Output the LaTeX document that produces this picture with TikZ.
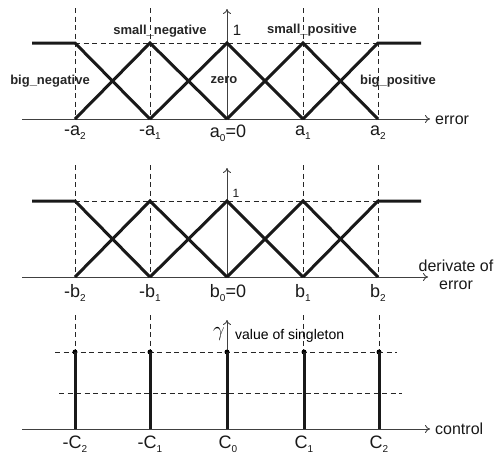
\documentclass[tikz,border=0pt]{standalone}
\usepackage{fontspec}
\setmainfont{Liberation Sans}
\usetikzlibrary{arrows.meta}
\newcommand{\sbs}[1]{\raisebox{-0.45ex}{\fontsize{10}{10}\selectfont #1}}
\begin{document}
\begin{tikzpicture}[x=1pt,y=-1pt,
  mf/.style={line width=3pt, line join=miter, black!90},
  guide/.style={dash pattern=on 5pt off 3.5pt, line width=0.9pt, black!85},
  axis/.style={line width=0.9pt, black!75, -{To[length=5pt,width=8pt]}},
  tick/.style={font=\fontsize{18}{18}\selectfont, text=black!90, inner sep=0pt},
  lab/.style={font=\fontsize{16}{18}\selectfont, text=black!90, inner sep=0pt},
  setname/.style={font=\bfseries\fontsize{13}{13}\selectfont, text=black!85, inner sep=0pt},
  one/.style={font=\fontsize{15}{15}\selectfont, text=black!90, inner sep=0pt},
  dot/.style={circle, fill=black, inner sep=0pt, minimum size=5pt}]
\useasboundingbox (0,0) rectangle (496,455);

% ---------- panel 1: error ----------
\coordinate (e0) at (22,119);
\coordinate (e1) at (430,119);
\draw[axis] (e0) -- (e1);
\node[lab, anchor=west] (err) at (435,120) {error};
\foreach \x in {75,150,303,378}{
  \draw[guide] (\x,8) -- (\x,119);
}
\draw[guide] (75,43) -- (378,43);
\draw[axis] (227,119) -- (227,9);
\node[one] (one1) at (237,30) {1};
\draw[mf] (32,43) -- (75,43) -- (150,119);
\draw[mf] (75,119) -- (150,43) -- (227,119);
\draw[mf] (150,119) -- (227,43) -- (303,119);
\draw[mf] (227,119) -- (303,43) -- (378,119);
\draw[mf] (303,119) -- (378,43) -- (421,43);
\node[setname] (sn) at (160,31) {small\_negative};
\node[setname] (sp) at (312,30) {small\_positive};
\node[setname] (bn) at (50,81) {big\_negative};
\node[setname] (zr) at (224,80) {zero};
\node[setname] (bp) at (398,81) {big\_positive};
\node[tick] (ta1) at (75,133) {-a\sbs{2}};
\node[tick] (ta2) at (150,133) {-a\sbs{1}};
\node[tick] (ta3) at (228,133) {a\sbs{0}=0};
\node[tick] (ta4) at (303,133) {a\sbs{1}};
\node[tick] (ta5) at (378,133) {a\sbs{2}};

% ---------- panel 2: derivate of error ----------
\coordinate (d0) at (22,277);
\coordinate (d1) at (428,277);
\draw[axis] (d0) -- (d1);
\node[lab, align=center] (der) at (456,275) {derivate of\\error};
\foreach \x in {75,150,303,378}{
  \draw[guide] (\x,165) -- (\x,277);
}
\draw[guide] (75,201) -- (378,201);
\draw[axis] (227,277) -- (227,168);
\node[one, font=\fontsize{12}{12}\selectfont] (one2) at (236,193) {1};
\draw[mf] (32,201) -- (75,201) -- (150,277);
\draw[mf] (75,277) -- (150,201) -- (227,277);
\draw[mf] (150,277) -- (227,201) -- (303,277);
\draw[mf] (227,277) -- (303,201) -- (378,277);
\draw[mf] (303,277) -- (378,201) -- (421,201);
\node[tick] (tb1) at (75,293) {-b\sbs{2}};
\node[tick] (tb2) at (150,293) {-b\sbs{1}};
\node[tick] (tb3) at (228,293) {b\sbs{0}=0};
\node[tick] (tb4) at (303,293) {b\sbs{1}};
\node[tick] (tb5) at (378,293) {b\sbs{2}};

% ---------- panel 3: control ----------
\coordinate (c0) at (22,429);
\coordinate (c1) at (430,429);
\draw[axis] (c0) -- (c1);
\node[lab, anchor=west] (ctl) at (435,429) {control};
\foreach \x in {75,150,303,379}{
  \draw[guide] (\x,315) -- (\x,352);
}
\draw[guide] (55,352) -- (397,352);
\draw[guide] (59,393) -- (402,393);
\draw[axis] (227,429) -- (227,320);
\node[font=\fontsize{21}{21}\selectfont, inner sep=0pt] (gam) at (219,334) {$\gamma$};
\node[font=\fontsize{14}{14}\selectfont, anchor=west, inner sep=0pt] (vs) at (235,336) {value of singleton};
\foreach \x/\n in {75/s1,150/s2,227/s3,304/s4,379/s5}{
  \node[dot] (\n) at (\x,352) {};
  \draw[mf, line width=3pt] (\x,429) -- (\n.center);
}
\node[tick] (tc1) at (75,444) {-C\sbs{2}};
\node[tick] (tc2) at (150,444) {-C\sbs{1}};
\node[tick] (tc3) at (228,444) {C\sbs{0}};
\node[tick] (tc4) at (304,444) {C\sbs{1}};
\node[tick] (tc5) at (379,444) {C\sbs{2}};
\end{tikzpicture}
\end{document}
